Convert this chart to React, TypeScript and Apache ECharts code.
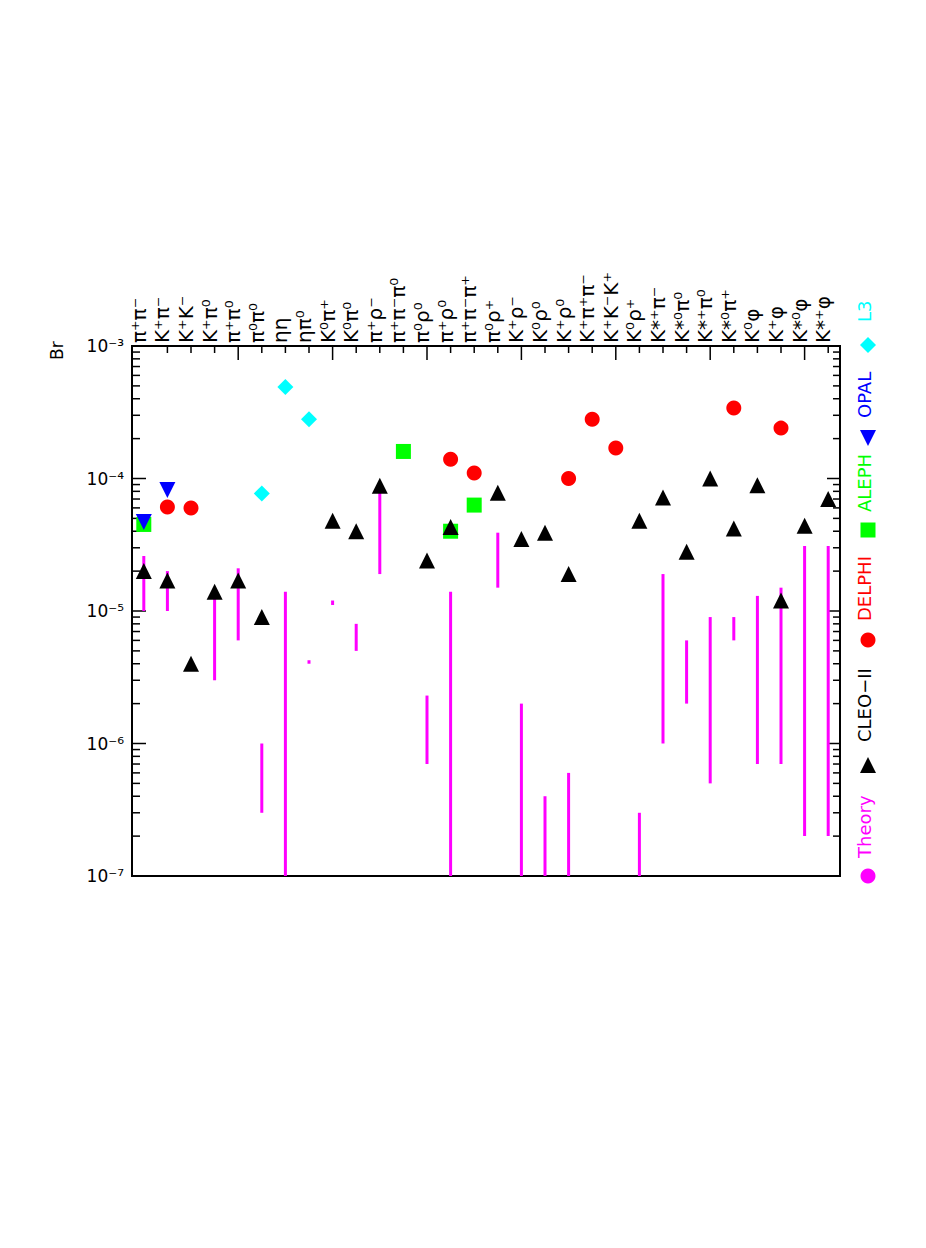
import React, { useEffect, useRef } from "react";
import * as echarts from "echarts";

const categories = [
  "π⁺π⁻", "K⁺π⁻", "K⁺K⁻", "K⁺π⁰", "π⁺π⁰", "π⁰π⁰", "ηη", "ηπ⁰", "K⁰π⁺", "K⁰π⁰",
  "π⁺ρ⁻", "π⁺π⁻π⁰", "π⁰ρ⁰", "π⁺ρ⁰", "π⁺π⁻π⁺", "π⁰ρ⁺", "K⁺ρ⁻", "K⁰ρ⁰", "K⁺ρ⁰", "K⁺π⁺π⁻",
  "K⁺K⁻K⁺", "K⁰ρ⁺", "K*⁺π⁻", "K*⁰π⁰", "K*⁺π⁰", "K*⁰π⁺", "K⁰φ", "K⁺φ", "K*⁰φ", "K*⁺φ",
];

const theoryLow = [
  1.0e-5, 1.0e-5, null, 3.0e-6, 6.0e-6, 3.0e-7, 1e-7, 4.0e-6, 1.11e-5, 5.0e-6,
  1.9e-5, null, 7.0e-7, 1e-7, null, 1.5e-5, 1e-7, 1e-7, 1e-7, null,
  null, 1e-7, 1.0e-6, 2.0e-6, 5.0e-7, 6.0e-6, 7.0e-7, 7.0e-7, 2.0e-7, 2.0e-7,
];
const theoryHigh = [
  2.6e-5, 2.0e-5, null, 1.3e-5, 2.1e-5, 1.0e-6, 1.4e-5, 4.25e-6, 1.2e-5, 8.0e-6,
  8.0e-5, null, 2.3e-6, 1.4e-5, null, 3.9e-5, 2.0e-6, 4.0e-7, 6.0e-7, null,
  null, 3.0e-7, 1.9e-5, 6.0e-6, 9.0e-6, 9.0e-6, 1.3e-5, 1.5e-5, 3.1e-5, 3.1e-5,
];
const cleo = [
  2.0e-5, 1.7e-5, 4.0e-6, 1.4e-5, 1.7e-5, 9.0e-6, null, null, 4.8e-5, 4.0e-5,
  8.8e-5, null, 2.4e-5, 4.3e-5, null, 7.8e-5, 3.5e-5, 3.9e-5, 1.9e-5, null,
  null, 4.8e-5, 7.2e-5, 2.8e-5, 1.0e-4, 4.2e-5, 8.9e-5, 1.2e-5, 4.4e-5, 7.0e-5,
];
const delphi = [
  null, 6.1e-5, 6.0e-5, null, null, null, null, null, null, null,
  null, null, null, 1.4e-4, 1.1e-4, null, null, null, 1.0e-4, 2.8e-4,
  1.7e-4, null, null, null, null, 3.4e-4, null, 2.4e-4, null, null,
];
const aleph = [
  4.5e-5, null, null, null, null, null, null, null, null, null,
  null, 1.6e-4, null, 4.0e-5, 6.3e-5, null, null, null, null, null,
  null, null, null, null, null, null, null, null, null, null,
];
const opal = [
  4.7e-5, 8.2e-5, null, null, null, null, null, null, null, null,
  null, null, null, null, null, null, null, null, null, null,
  null, null, null, null, null, null, null, null, null, null,
];
const l3 = [
  null, null, null, null, null, 7.7e-5, 4.9e-4, 2.8e-4, null, null,
  null, null, null, null, null, null, null, null, null, null,
  null, null, null, null, null, null, null, null, null, null,
];

const yMin = 1e-7;
const yMax = 1e-3;
const yDecades = [-7, -6, -5, -4, -3];
const minorMultipliers = [2, 3, 4, 5, 6, 7, 8, 9];

const legendItems = [
  { name: "Theory", color: "#ff00ff" },
  { name: "CLEO−II", color: "#000000" },
  { name: "DELPHI", color: "#ff0000" },
  { name: "ALEPH", color: "#00ff00" },
  { name: "OPAL", color: "#0000ff" },
  { name: "L3", color: "#00ffff" },
];

const FONT = "DejaVu Sans, sans-serif";

const supMap: Record<string, string> = {
  "0": "⁰", "1": "¹", "2": "²", "3": "³", "4": "⁴", "5": "⁵", "6": "⁶", "7": "⁷", "8": "⁸", "9": "⁹", "-": "⁻",
};
const sup = (s: string) => s.split("").map((c) => supMap[c] || c).join("");

const toPoints = (arr: (number | null)[]) =>
  arr.map((v, i) => (v == null ? null : [i, v])).filter((p) => p !== null);

export default function App() {
  const ref = useRef<HTMLDivElement>(null);

  useEffect(() => {
    if (!ref.current) return;
    const chart = echarts.init(ref.current, undefined, { renderer: "svg" });

    const theoryData = theoryLow
      .map((lo, i) => (lo == null || theoryHigh[i] == null ? null : [i, lo, theoryHigh[i]]))
      .filter((p) => p !== null);

    const yTickData: number[][] = [];
    yDecades.forEach((d) => {
      yTickData.push([0, Math.pow(10, d), 1]);
      if (d < -3) minorMultipliers.forEach((m) => yTickData.push([0, m * Math.pow(10, d), 0]));
    });
    const xTickData = categories.map((_, i) => [i, yMax, i % 4 === 0 ? 1 : 0]).filter((r) => r[0] > 0);
    const xLabelData = categories.map((_, i) => [i, yMax]);

    const legendGraphics: any[] = [];
    const lx = 868;
    const tx = 864;
    const fs = 18;
    const mk = [
      { cy: 876, textBottom: 858 },
      { cy: 765, textBottom: 742 },
      { cy: 640, textBottom: 621 },
      { cy: 530, textBottom: 512 },
      { cy: 438, textBottom: 418 },
      { cy: 345, textBottom: 322 },
    ];
    legendItems.forEach((it, k) => {
      const { cy, textBottom } = mk[k];
      let marker: any;
      if (k === 0 || k === 2) {
        marker = { type: "circle", shape: { cx: lx, cy, r: 7.5 }, style: { fill: it.color } };
      } else if (k === 1) {
        marker = { type: "polygon", shape: { points: [[lx - 8, cy + 8], [lx + 8, cy + 8], [lx, cy - 8]] }, style: { fill: it.color } };
      } else if (k === 3) {
        marker = { type: "rect", shape: { x: lx - 7.5, y: cy - 7.5, width: 15, height: 15 }, style: { fill: it.color } };
      } else if (k === 4) {
        marker = { type: "polygon", shape: { points: [[lx - 8, cy - 8], [lx + 8, cy - 8], [lx, cy + 8]] }, style: { fill: it.color } };
      } else {
        marker = { type: "polygon", shape: { points: [[lx, cy - 8], [lx + 8, cy], [lx, cy + 8], [lx - 8, cy]] }, style: { fill: it.color } };
      }
      legendGraphics.push(marker);
      legendGraphics.push({
        type: "text",
        x: tx,
        y: textBottom,
        rotation: Math.PI / 2,
        style: { text: it.name, fill: it.color, font: `${fs}px ${FONT}`, textAlign: "left", textVerticalAlign: "middle" },
      });
    });
    legendGraphics.push({
      type: "text",
      x: 57,
      y: 360,
      rotation: Math.PI / 2,
      style: { text: "Br", fill: "#000", font: `17px ${FONT}`, textAlign: "left", textVerticalAlign: "middle" },
    });

    const option: any = {
      animation: false,
      backgroundColor: "#ffffff",
      grid: { left: 132, top: 346, width: 708, height: 530, show: true, borderColor: "#000", borderWidth: 2, backgroundColor: "transparent" },
      xAxis: {
        type: "category",
        position: "top",
        data: categories,
        boundaryGap: true,
        axisLine: { show: false },
        axisTick: { show: false },
        splitLine: { show: false },
        axisLabel: { show: false },
      },
      yAxis: {
        type: "log",
        logBase: 10,
        min: yMin,
        max: yMax,
        splitNumber: 4,
        axisLine: { show: false },
        axisTick: { show: false },
        splitLine: { show: false },
        axisLabel: {
          margin: 8,
          fontSize: 17,
          fontFamily: FONT,
          color: "#000",
          formatter: (v: number) => "10" + sup(String(Math.round(Math.log10(v)))),
        },
      },
      graphic: legendGraphics,
      series: [
        {
          type: "custom",
          name: "xlabels",
          z: 1,
          silent: true,
          clip: false,
          data: xLabelData,
          encode: { x: 0, y: 1 },
          renderItem: (params: any, api: any) => {
            const cs = params.coordSys;
            const i = api.value(0);
            const x = api.coord([i, yMax])[0];
            return {
              type: "text",
              x: x - 5,
              y: cs.y - 3,
              rotation: Math.PI / 2,
              style: { text: categories[i], fill: "#000", font: `20px ${FONT}`, textAlign: "left", textVerticalAlign: "middle" },
            };
          },
        },
        {
          type: "custom",
          name: "yticks",
          z: 1,
          silent: true,
          data: yTickData,
          encode: { x: 0, y: 1 },
          renderItem: (params: any, api: any) => {
            const cs = params.coordSys;
            const y = api.coord([0, api.value(1)])[1];
            const major = api.value(2) === 1;
            const lenL = major ? 14 : 8;
            const lenR = major ? 13 : 7;
            return {
              type: "group",
              children: [
                { type: "line", shape: { x1: cs.x, y1: y, x2: cs.x + lenL, y2: y }, style: { stroke: "#000", lineWidth: 1.5 } },
                { type: "line", shape: { x1: cs.x + cs.width, y1: y, x2: cs.x + cs.width - lenR, y2: y }, style: { stroke: "#000", lineWidth: 1.5 } },
              ],
            };
          },
        },
        {
          type: "custom",
          name: "xticks",
          z: 1,
          silent: true,
          data: xTickData,
          encode: { x: 0, y: 1 },
          renderItem: (params: any, api: any) => {
            const cs = params.coordSys;
            const x = api.coord([api.value(0), yMax])[0];
            const len = api.value(2) === 1 ? 14 : 7;
            return { type: "line", shape: { x1: x, y1: cs.y, x2: x, y2: cs.y + len }, style: { stroke: "#000", lineWidth: 1.5 } };
          },
        },
        {
          type: "custom",
          name: "Theory",
          z: 2,
          data: theoryData,
          encode: { x: 0, y: [1, 2] },
          renderItem: (params: any, api: any) => {
            const xi = api.value(0);
            const a = api.coord([xi, api.value(1)]);
            const b = api.coord([xi, api.value(2)]);
            return { type: "line", shape: { x1: a[0], y1: a[1], x2: b[0], y2: b[1] }, style: { stroke: "#ff00ff", lineWidth: 3 } };
          },
        },
        { type: "scatter", name: "ALEPH", z: 3, symbol: "rect", symbolSize: 15, itemStyle: { color: "#00ff00", opacity: 1 }, data: toPoints(aleph) },
        { type: "scatter", name: "OPAL", z: 4, symbol: "triangle", symbolRotate: 180, symbolSize: 16, itemStyle: { color: "#0000ff", opacity: 1 }, data: toPoints(opal) },
        { type: "scatter", name: "DELPHI", z: 5, symbol: "circle", symbolSize: 15, itemStyle: { color: "#ff0000", opacity: 1 }, data: toPoints(delphi) },
        { type: "scatter", name: "L3", z: 5, symbol: "diamond", symbolSize: 16, itemStyle: { color: "#00ffff", opacity: 1 }, data: toPoints(l3) },
        { type: "scatter", name: "CLEO-II", z: 6, symbol: "triangle", symbolSize: 16, itemStyle: { color: "#000000", opacity: 1 }, data: toPoints(cleo) },
      ],
    };
    chart.setOption(option);
    return () => chart.dispose();
  }, []);

  return <div ref={ref} style={{ position: "absolute", left: 0, top: 0, width: 926, height: 1248 }} />;
}
